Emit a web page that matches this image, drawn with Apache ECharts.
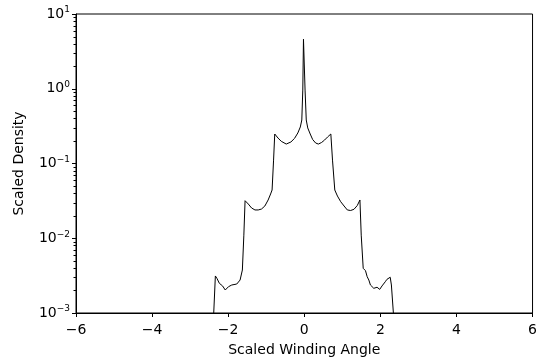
<!DOCTYPE html>
<html>
<head>
<meta charset="utf-8">
<script src="https://cdn.jsdelivr.net/npm/echarts@6/dist/echarts.min.js"></script>
<style>html,body{margin:0;padding:0;background:#fff}#c{width:540px;height:362px}</style>
</head>
<body>
<div id="c"></div>
<script>
var xs = [-2.38, -2.337, -2.296, -2.233, -2.181, -2.147, -2.077, -1.991, -1.905, -1.775, -1.687, -1.627, -1.588, -1.556, -1.471, -1.385, -1.296, -1.210, -1.124, -1.036, -0.950, -0.885, -0.846, -0.807, -0.776, -0.690, -0.604, -0.474, -0.351, -0.255, -0.169, -0.104, -0.065, -0.039, -0.021, 0.0, 0.021, 0.052, 0.091, 0.156, 0.221, 0.299, 0.370, 0.455, 0.534, 0.612, 0.698, 0.742, 0.802, 0.872, 0.958, 1.046, 1.132, 1.218, 1.307, 1.393, 1.463, 1.497, 1.549, 1.609, 1.653, 1.697, 1.739, 1.827, 1.913, 1.983, 2.043, 2.129, 2.173, 2.259, 2.290, 2.342];
var ys = [0.001, 0.00313, 0.00291, 0.00250, 0.00262, 0.00230, 0.00203, 0.00225, 0.00237, 0.00244, 0.00276, 0.00376, 0.0110, 0.0318, 0.0287, 0.0254, 0.0239, 0.0239, 0.0246, 0.0270, 0.0325, 0.0391, 0.0442, 0.111, 0.248, 0.219, 0.198, 0.182, 0.194, 0.217, 0.256, 0.308, 0.382, 0.96, 4.6, 4.6, 0.96, 0.382, 0.299, 0.248, 0.209, 0.188, 0.182, 0.191, 0.206, 0.226, 0.248, 0.111, 0.0442, 0.0367, 0.0308, 0.0270, 0.0239, 0.0235, 0.0244, 0.0274, 0.0325, 0.0110, 0.00396, 0.00368, 0.00306, 0.00276, 0.00237, 0.00214, 0.00221, 0.00207, 0.00230, 0.00262, 0.00282, 0.00301, 0.00237, 0.001];
var xTicks = [-6, -4, -2, 0, 2, 4, 6];
var yDecades = [-3, -2, -1, 0, 1];

var minorVals = [];
for (var d = -3; d < 1; d++) {
  for (var k = 2; k <= 9; k++) minorVals.push(+(k * Math.pow(10, d)).toPrecision(6));
}
var data = xs.map(function (x, i) { return [x, ys[i]]; });
var font = 'DejaVu Sans';
var chart = echarts.init(document.getElementById('c'));
chart.setOption({
  animation: false,
  grid: { left: 76, right: 3, top: 14, bottom: 49, show: true, borderColor: '#000', borderWidth: 1, containLabel: false },
  xAxis: {
    type: 'value', min: -6, max: 6, interval: 2,
    name: 'Scaled Winding Angle', nameLocation: 'middle', nameGap: 30,
    nameTextStyle: { fontFamily: font, fontSize: 14, color: '#000', verticalAlign: 'top' },
    axisLine: { onZero: false, lineStyle: { color: '#000', width: 1 } },
    axisTick: { inside: false, length: 4, lineStyle: { color: '#000' } },
    axisLabel: { fontFamily: font, fontSize: 14, color: '#000', margin: 10,
      formatter: function (v) { return String(v).replace('-', '\u2212'); } },
    splitLine: { show: false }
  },
  yAxis: {
    type: 'log', logBase: 10, min: 0.001, max: 10, interval: 1,
    name: 'Scaled Density', nameLocation: 'middle', nameGap: 50,
    nameTextStyle: { fontFamily: font, fontSize: 14, color: '#000' },
    axisLine: { onZero: false, lineStyle: { color: '#000', width: 1 } },
    axisTick: { inside: false, length: 4, lineStyle: { color: '#000' } },
    axisLabel: { fontFamily: font, fontSize: 14, color: '#000', margin: 6,
      formatter: function (v) {
        var e = Math.round(Math.log10(v));
        return '10{s|' + String(e).replace('-', '\u2212') + '}';
      },
      rich: { s: { fontFamily: font, fontSize: 9, color: '#000', padding: [0, 0, 8, 0] } }
    },
    splitLine: { show: false }
  },
  series: [{
    type: 'line', data: data, showSymbol: false, clip: true,
    lineStyle: { color: '#000', width: 1 }
  }, {
    type: 'custom', clip: false, silent: true,
    data: minorVals.map(function (v) { return [-6, v]; }),
    renderItem: function (params, api) {
      var p = api.coord([api.value(0), api.value(1)]);
      var y = Math.round(p[1]) + 0.5;
      return { type: 'line', shape: { x1: p[0] - 2.5, y1: y, x2: p[0], y2: y },
        style: { stroke: '#000', lineWidth: 1 } };
    }
  }]
});
</script>
</body>
</html>
